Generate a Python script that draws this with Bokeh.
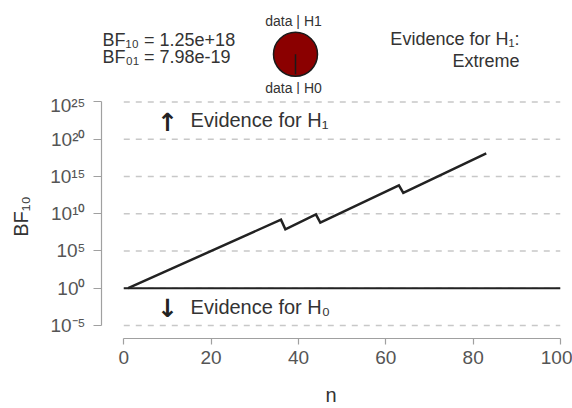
import math
from bokeh.plotting import figure
from bokeh.layouts import column
from bokeh.models import Range1d, FixedTicker, CustomJSTickFormatter, Label
from bokeh.core.properties import value
from bokeh.embed import file_html
from bokeh.resources import INLINE

# ---- data ----
n_obs = [1, 36, 37, 44, 45, 63, 64, 83]                 # kink points of the sequential BF10 path
bf10_seq = [1.0, 1.6e9, 8.0e7, 8.0e9, 6.3e8, 6.3e13, 6.3e12, 1.25e18]
bf10_final = 1.25e18
bf01_final = 7.98e-19
evidence_category = "Extreme"
x_ticks = [0, 20, 40, 60, 80, 100]
y_ticks = [1e-5, 1e0, 1e5, 1e10, 1e15, 1e20, 1e25]
bf_reference = 1.0

# ---- styles / layout ----
FONT = "Liberation Sans"
TXT = "#333333"
W = 572
HEAD_H = 94
MAIN_H = 314
LEFT, RIGHT = 101, 12

# ---- header figure (x in page pixels, y measured up from its bottom) ----
head = figure(width=W, height=HEAD_H, x_range=Range1d(LEFT, W - RIGHT), y_range=Range1d(0, HEAD_H),
              x_axis_location=None, y_axis_location=None, toolbar_location=None,
              output_backend="svg", min_border_left=LEFT, min_border_right=RIGHT,
              min_border_top=0, min_border_bottom=0, outline_line_color=None)
head.grid.visible = False

p_h1 = bf10_final / (1.0 + bf10_final)
pie_x, pie_y = 295, 40.2
head.scatter(x=[pie_x], y=[pie_y], marker="circle", size=44,
             fill_color="#8b0000", line_color="#1a1a1a", line_width=1.5)
head.ray(x=[pie_x], y=[pie_y], angle=-math.pi / 2 + 2 * math.pi * p_h1,
         length=20, length_units="screen", line_color="#1a1a1a", line_width=1.5)

def hlab(x, y, text, size, align):
    head.add_layout(Label(x=x, y=y, text=text, text_font=FONT, text_font_size=size,
                          text_color=TXT, text_align=align, text_baseline="middle"))

hlab(102, 54.5, f"BF\u2081\u2080 = {bf10_final:.2e}", "18px", "left")
hlab(102, 37.5, f"BF\u2080\u2081 = {bf01_final:.2e}", "18px", "left")
hlab(293, 74, "data | H1", "14px", "center")
hlab(293, 7, "data | H0", "14px", "center")
hlab(519, 55.5, "Evidence for H\u2081:", "18px", "right")
hlab(519, 33.5, evidence_category, "18px", "right")

# ---- main sequential plot ----
p = figure(width=W, height=MAIN_H, x_range=Range1d(-5.1, 100),
           y_range=Range1d(10 ** -6.75, 10 ** 26.0), y_axis_type="log",
           toolbar_location=None, output_backend="svg",
           min_border_left=LEFT, min_border_right=RIGHT, min_border_top=0, min_border_bottom=70,
           outline_line_color=None, x_axis_label="n", y_axis_label="BF\u2081\u2080")
p.grid.visible = False

p.segment(x0=[x_ticks[0]] * len(y_ticks), x1=[x_ticks[-1]] * len(y_ticks),
          y0=y_ticks, y1=y_ticks, line_color="#c8c8c8", line_width=1.5, line_dash="6 6")
p.segment(x0=[x_ticks[0]], x1=[x_ticks[-1]], y0=[bf_reference], y1=[bf_reference],
          line_color="#222222", line_width=2)
p.line(n_obs, bf10_seq, line_color="#222222", line_width=2.5, line_join="miter")

p.text(x=[15.3, 15.3], y=[10 ** 22.64, 10 ** -2.52],
       text=["Evidence for H\u2081", "Evidence for H\u2080"],
       text_font=value(FONT), text_font_size="20px", text_color=TXT,
       text_align="left", text_baseline="middle")
p.text(x=[10.0, 10.0], y=[10 ** 22.3, 10 ** -2.75], text=["\u2191", "\u2193"],
       text_font=value("DejaVu Sans"), text_font_size="25px", text_font_style="bold",
       text_color="#222222", text_align="center", text_baseline="middle")

p.xaxis.ticker = FixedTicker(ticks=x_ticks)
p.xaxis.bounds = (x_ticks[0], x_ticks[-1])
p.yaxis.ticker = FixedTicker(ticks=y_ticks, minor_ticks=[])
p.yaxis.bounds = (y_ticks[0], y_ticks[-1])
p.yaxis.formatter = CustomJSTickFormatter(code="""
const sup = {"0":"\u2070","1":"\u00b9","2":"\u00b2","3":"\u00b3","4":"\u2074","5":"\u2075",
             "6":"\u2076","7":"\u2077","8":"\u2078","9":"\u2079","-":"\u207b"};
const e = Math.round(Math.log10(tick));
return "10" + String(e).split("").map(c => sup[c]).join("");
""")

for ax in p.axis:
    ax.axis_line_color = "#a0a0a0"
    ax.axis_line_width = 1.2
    ax.major_tick_line_color = "#a0a0a0"
    ax.major_tick_line_width = 1.2
    ax.minor_tick_line_color = None
    ax.major_tick_in = 0
    ax.major_label_text_font = FONT
    ax.major_label_text_font_size = "19px"
    ax.major_label_text_color = "#555555"
    ax.axis_label_text_font = FONT
    ax.axis_label_text_font_size = "20px"
    ax.axis_label_text_font_style = "normal"
    ax.axis_label_text_color = TXT

p.xaxis.major_tick_out = 6
p.yaxis.major_tick_out = 8
p.xaxis.major_label_standoff = 6
p.yaxis.major_label_standoff = 8
p.xaxis.axis_label_standoff = 17
p.yaxis.axis_label_standoff = 15

layout = column(head, p)
open("out.html", "w").write(file_html(layout, INLINE))
